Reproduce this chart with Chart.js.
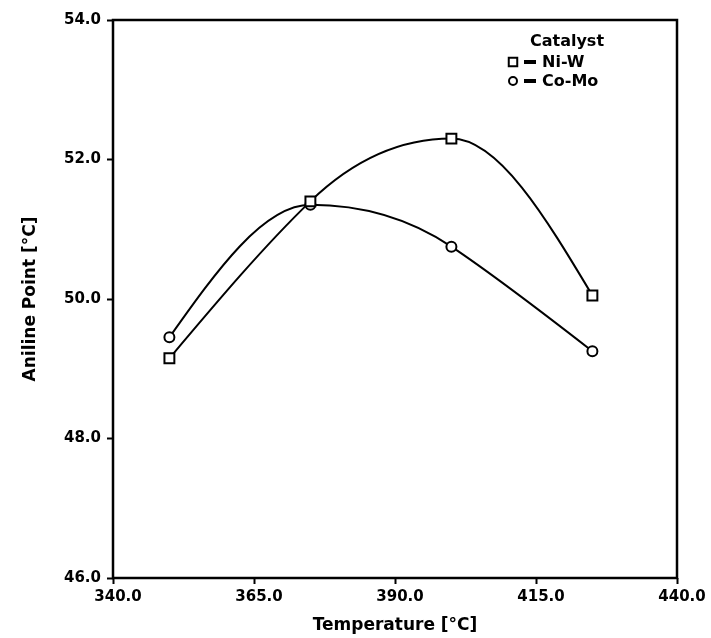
<!DOCTYPE html>
<html>
<head>
<meta charset="utf-8">
<script src="https://cdn.jsdelivr.net/npm/chart.js@4.4.0/dist/chart.umd.min.js"></script>
<style>
  body { margin: 0; background: #fff; }
</style>
</head>
<body>
<canvas id="chart" width="711" height="638"></canvas>
<script>
const temperatures = [350, 375, 400, 425];
const niW = [49.15, 51.4, 52.3, 50.05];
const coMo = [49.45, 51.35, 50.75, 49.25];
const xTicks = [340, 365, 390, 415, 440];
const yTicks = [46, 48, 50, 52, 54];
const legendTitle = "Catalyst";

const FONT = "DejaVu Sans";

// box around the plot area
const frame = {
  id: 'frame',
  beforeDatasetsDraw(chart) {
    const { ctx, chartArea: a } = chart;
    ctx.save();
    ctx.strokeStyle = '#000';
    ctx.lineWidth = 2.5;
    ctx.strokeRect(a.left, a.top, a.right - a.left, a.bottom - a.top);
    ctx.restore();
  }
};

// spline handles: natural-spline slopes inside, flat at local peaks,
// zero curvature at both ends
const smoothCurve = {
  id: 'smoothCurve',
  beforeDatasetDraw(chart, args) {
    const line = args.meta.dataset;
    const pts = args.meta.data;
    const n = pts.length;
    if (n < 3) return;
    line.updateControlPoints(chart.chartArea, 'x');

    const h = [], d = [];
    for (let i = 0; i < n - 1; i++) {
      h.push(pts[i + 1].x - pts[i].x);
      d.push((pts[i + 1].y - pts[i].y) / h[i]);
    }
    const M = new Array(n).fill(0);
    const a = [], b = [], c = [], r = [];
    for (let i = 1; i < n - 1; i++) {
      a.push(h[i - 1]);
      b.push(2 * (h[i - 1] + h[i]));
      c.push(h[i]);
      r.push(6 * (d[i] - d[i - 1]));
    }
    const m = r.length;
    for (let i = 1; i < m; i++) {
      const w = a[i] / b[i - 1];
      b[i] -= w * c[i - 1];
      r[i] -= w * r[i - 1];
    }
    for (let i = m - 1; i >= 0; i--) {
      M[i + 1] = (r[i] - c[i] * M[i + 2]) / b[i];
    }

    const slope = new Array(n).fill(0);
    for (let i = 1; i < n - 1; i++) {
      slope[i] = d[i - 1] * d[i] <= 0 ? 0 : d[i] - h[i] * (2 * M[i] + M[i + 1]) / 6;
    }
    slope[0] = (3 * d[0] - slope[1]) / 2;
    slope[n - 1] = (3 * d[n - 2] - slope[n - 2]) / 2;

    for (let i = 0; i < n; i++) {
      const p = pts[i];
      if (i < n - 1) {
        p.cp2x = p.x + h[i] / 3;
        p.cp2y = p.y + slope[i] * h[i] / 3;
      }
      if (i > 0) {
        p.cp1x = p.x - h[i - 1] / 3;
        p.cp1y = p.y - slope[i] * h[i - 1] / 3;
      }
    }
    line._path = undefined;
  }
};

// legend block in the upper right corner
const catalystLegend = {
  id: 'catalystLegend',
  afterDraw(chart) {
    const ctx = chart.ctx;
    ctx.save();
    ctx.fillStyle = '#000';
    ctx.textBaseline = 'middle';
    ctx.font = `bold 16px "${FONT}"`;
    ctx.textAlign = 'center';
    ctx.fillText(legendTitle, 567, 42);
    ctx.textAlign = 'left';
    chart.data.datasets.forEach((ds, i) => {
      const y = 62 + i * 19;
      ctx.strokeStyle = '#000';
      ctx.lineWidth = 2;
      ctx.fillStyle = '#fff';
      const r = ds.pointStyle === 'rect' ? 6 : 4;
      Chart.helpers.drawPoint(ctx, { pointStyle: ds.pointStyle, radius: r, borderWidth: 2 }, 513, y);
      ctx.fillStyle = '#000';
      ctx.fillRect(524, y - 2, 12, 4);
      ctx.font = `bold 16px "${FONT}"`;
      ctx.fillText(ds.label, 542, y + 1);
    });
    ctx.restore();
  }
};

const toPoints = vals => temperatures.map((t, i) => ({ x: t, y: vals[i] }));

new Chart(document.getElementById('chart'), {
  type: 'line',
  data: {
    datasets: [
      {
        label: 'Ni-W',
        data: toPoints(niW),
        pointStyle: 'rect',
        pointRadius: 7,
        borderColor: '#000',
        backgroundColor: '#fff',
        borderWidth: 2,
        pointBorderWidth: 2,
        tension: 0.4,
        clip: false
      },
      {
        label: 'Co-Mo',
        data: toPoints(coMo),
        pointStyle: 'circle',
        pointRadius: 5,
        borderColor: '#000',
        backgroundColor: '#fff',
        borderWidth: 2,
        pointBorderWidth: 2,
        tension: 0.4,
        clip: false
      }
    ]
  },
  options: {
    responsive: false,
    animation: false,
    layout: { padding: { top: 20, right: 34, left: 0, bottom: 0 } },
    plugins: {
      legend: { display: false },
      tooltip: { enabled: false }
    },
    scales: {
      x: {
        type: 'linear',
        min: 340,
        max: 440,
        afterBuildTicks: axis => { axis.ticks = xTicks.map(v => ({ value: v })); },
        afterFit: axis => { axis.height = 60; },
        border: { display: false },
        grid: { drawOnChartArea: false, drawTicks: true, tickLength: 6, tickWidth: 2, color: '#000' },
        ticks: {
          color: '#000',
          padding: 4,
          labelOffset: 5,
          maxRotation: 0,
          font: { family: FONT, size: 15, weight: 'bold' },
          callback: v => v.toFixed(1)
        },
        title: {
          display: true,
          text: 'Temperature [°C]',
          color: '#000',
          padding: { top: 0, bottom: 2 },
          font: { family: FONT, size: 17, weight: 'bold' }
        }
      },
      y: {
        min: 46,
        max: 54,
        afterBuildTicks: axis => { axis.ticks = yTicks.map(v => ({ value: v })); },
        afterFit: axis => { axis.width = 113; },
        border: { display: false },
        grid: { drawOnChartArea: false, drawTicks: true, tickLength: 6, tickWidth: 2, color: '#000' },
        ticks: {
          color: '#000',
          padding: 6,
          font: { family: FONT, size: 15, weight: 'bold' },
          callback: v => v.toFixed(1)
        },
        title: {
          display: true,
          text: 'Aniline Point [°C]',
          color: '#000',
          padding: { top: 20, bottom: 0 },
          font: { family: FONT, size: 17, weight: 'bold' }
        }
      }
    }
  },
  plugins: [frame, smoothCurve, catalystLegend]
});
</script>
</body>
</html>
